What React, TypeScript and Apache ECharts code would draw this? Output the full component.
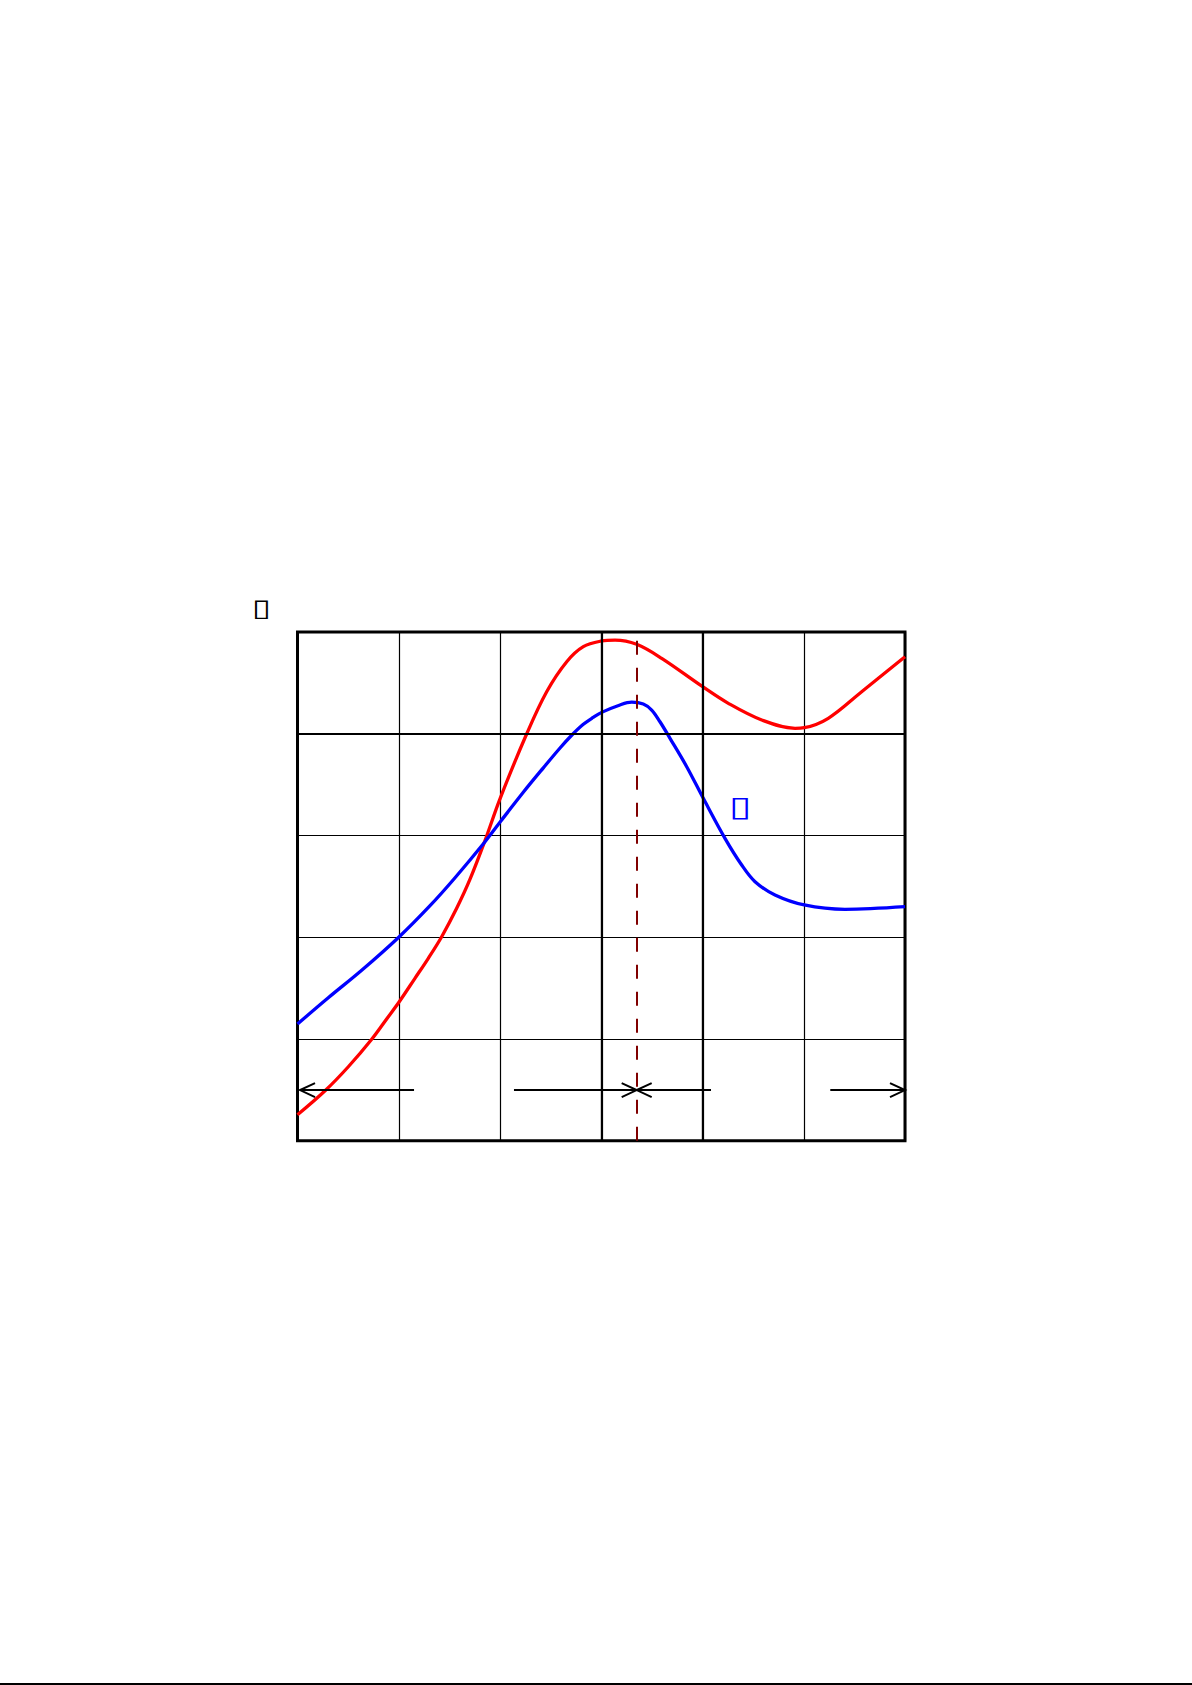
import React, { useEffect, useRef } from "react";
import * as echarts from "echarts";

// Curve readings (grid units: 100 per cell, 6 cells wide, 5 cells tall)
const redX = [0, 27.2, 50.2, 73.3, 89.7, 100.5, 116, 129.2, 142.4, 157.2, 170.4, 185.2, 200, 226.4, 246.1, 265.9, 282.3, 300.4, 313.6, 335, 359.7, 400.2, 425.5, 458.5, 491.4, 500.5, 524.2, 557.2, 600];
const redY = [25.5, 49.1, 72.7, 99.7, 121.9, 136.6, 159.6, 179.3, 200.5, 228.4, 257, 295, 336, 400, 441.3, 470.8, 485.6, 491.2, 492.1, 487.9, 474.1, 446.2, 429.9, 413.5, 405.3, 405.9, 415.2, 441.3, 475.7];
const blueX = [0, 30.4, 63.4, 100, 130.9, 155.6, 185.2, 200.3, 223, 242.8, 259.3, 270.8, 282, 292, 300.4, 318.5, 330.1, 341.5, 349.8, 358, 367.9, 384.4, 400.8, 422.2, 438.7, 451.9, 471.6, 500.5, 540.7, 600];
const blueY = [114.7, 140.5, 167.5, 200, 231, 258.5, 293.9, 313.5, 342.5, 366.5, 386, 398.5, 409, 416, 421, 428.3, 431, 429.2, 423.3, 411.8, 395.5, 367.6, 336.5, 297.2, 271, 254.6, 241.5, 231.7, 227.4, 230];

const xMax = 600;
const yMax = 500;
const gridStep = 100;
const thickX = [300, 400];
const thickY = [400];
const dividerX = 335;
const arrowY = 49.8;
// [start, end, head at start, head at end]
const arrowSegments = [
  [2.5, 115.1, 1, 0],
  [213.8, 335, 0, 1],
  [335, 408.4, 1, 0],
  [526.2, 600, 0, 1],
];
const yTitle = "\u25AF";
const blueLabel = "\u25AF";

const zip = (xs: number[], ys: number[]) => xs.map((x, i) => [x, ys[i]]);

export default function App() {
  const ref = useRef<HTMLDivElement>(null);
  useEffect(() => {
    const chart = echarts.init(ref.current as HTMLDivElement, null, { renderer: "svg" });
    const option: any = {
      animation: false,
      grid: {
        show: true,
        left: 297.5,
        top: 632,
        width: 607.5,
        height: 508.7,
        borderColor: "#000",
        borderWidth: 3,
        backgroundColor: "transparent",
      },
      xAxis: {
        type: "value",
        min: 0,
        max: xMax,
        interval: gridStep,
        axisLine: { show: false },
        axisTick: { show: false },
        axisLabel: { show: false },
        splitLine: { show: true, lineStyle: { color: "#000", width: 1.2 } },
      },
      yAxis: {
        type: "value",
        min: 0,
        max: yMax,
        interval: gridStep,
        axisLine: { show: false },
        axisTick: { show: false },
        axisLabel: { show: false },
        splitLine: { show: true, lineStyle: { color: "#000", width: 1.2 } },
      },
      graphic: [
        {
          type: "text",
          x: 252,
          y: 596,
          scaleX: 1.45,
          style: { text: yTitle, font: '24px "DejaVu Sans"', fill: "#000" },
        },
        {
          type: "text",
          x: 729,
          y: 792,
          scaleX: 1.45,
          style: { text: blueLabel, font: '28px "DejaVu Sans"', fill: "#0000ff" },
        },
        {
          type: "rect",
          shape: { x: 0, y: 1683, width: 1192, height: 2 },
          style: { fill: "#000" },
        },
      ],
      series: [
        {
          type: "line",
          data: [],
          z: 1,
          markLine: {
            silent: true,
            symbol: ["none", "none"],
            label: { show: false },
            lineStyle: { color: "#000", width: 2.2, type: "solid" },
            data: [...thickX.map((x) => ({ xAxis: x })), ...thickY.map((y) => ({ yAxis: y }))],
          },
        },
        {
          name: "red",
          type: "line",
          data: zip(redX, redY),
          smooth: 0.35,
          symbol: "none",
          z: 3,
          lineStyle: { color: "#ff0000", width: 3.3 },
        },
        {
          name: "blue",
          type: "line",
          data: zip(blueX, blueY),
          smooth: 0.35,
          symbol: "none",
          z: 4,
          lineStyle: { color: "#0000ff", width: 3.3 },
        },
        {
          type: "line",
          data: [],
          z: 5,
          markLine: {
            silent: true,
            symbol: ["none", "none"],
            label: { show: false },
            lineStyle: { color: "#800000", width: 2, type: [14, 13] },
            data: [{ xAxis: dividerX }],
          },
        },
        {
          type: "custom",
          z: 6,
          clip: false,
          encode: { x: [0, 1], y: 2 },
          data: arrowSegments.map((s) => [s[0], s[1], arrowY, s[2], s[3]]),
          renderItem: (params: any, api: any) => {
            const p1 = api.coord([api.value(0), api.value(2)]);
            const p2 = api.coord([api.value(1), api.value(2)]);
            const style = { stroke: "#000", lineWidth: 2, fill: null };
            const children: any[] = [
              { type: "line", shape: { x1: p1[0], y1: p1[1], x2: p2[0], y2: p2[1] }, style },
            ];
            if (api.value(3)) {
              children.push({
                type: "polyline",
                shape: { points: [[p1[0] + 15, p1[1] - 7], [p1[0], p1[1]], [p1[0] + 15, p1[1] + 7]] },
                style,
              });
            }
            if (api.value(4)) {
              children.push({
                type: "polyline",
                shape: { points: [[p2[0] - 15, p2[1] - 7], [p2[0], p2[1]], [p2[0] - 15, p2[1] + 7]] },
                style,
              });
            }
            return { type: "group", children };
          },
        },
      ],
    };
    chart.setOption(option);
    return () => chart.dispose();
  }, []);
  return (
    <div
      ref={ref}
      style={{ position: "absolute", left: 0, top: 0, width: 1192, height: 1685 }}
    />
  );
}
